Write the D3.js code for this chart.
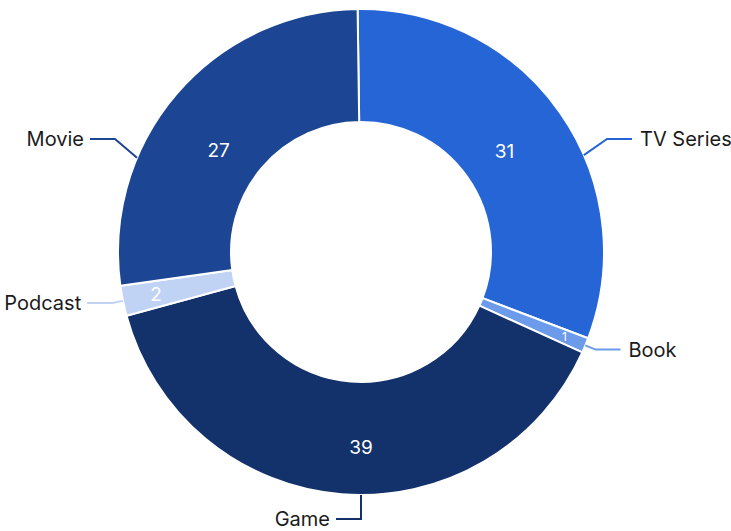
<!DOCTYPE html>
<html>
<head>
<meta charset="utf-8">
<script src="https://cdn.jsdelivr.net/npm/d3@7"></script>
<style>
  body { margin: 0; background: #fff; }
  svg { display: block; font-family: Inter, "Noto Sans", sans-serif; }
</style>
</head>
<body>
<div id="chart"></div>
<script>
// Media consumption share by category (clockwise from 12 o'clock)
const categories = ["TV Series", "Book", "Game", "Podcast", "Movie"];
const values = [31, 1, 39, 2, 27];
const colors = ["#2665d6", "#6b9bea", "#13316a", "#c0d3f5", "#1c4593"];

const width = 731, height = 531;
const margin = { top: 10, left: 118 };
const outerR = 243, innerR = 130;
const cx = margin.left + outerR, cy = margin.top + outerR - 1;
const start = -0.8 * Math.PI / 180; // pie is turned a hair anticlockwise

const svg = d3.select("#chart").append("svg")
  .attr("width", width).attr("height", height);
const g = svg.append("g").attr("transform", `translate(${cx},${cy})`);

const data = categories.map((c, i) => ({ category: c, value: values[i], color: colors[i] }));
const total = d3.sum(values);
const pie = d3.pie().sort(null).value(d => d.value)
  .startAngle(start).endAngle(start + 2 * Math.PI);
const arc = d3.arc().innerRadius(innerR).outerRadius(outerR);
const arcs = pie(data);

// slices
g.selectAll("path.slice")
  .data(arcs)
  .join("path")
  .attr("class", "slice")
  .attr("d", arc)
  .attr("fill", d => d.data.color)
  .attr("stroke", "#fff")
  .attr("stroke-width", 2);

// label angle: snap to a compass direction when the slice mid sits close to it
const snapTol = 8 * Math.PI / 180;
function labelAngle(d) {
  const mid = (d.startAngle + d.endAngle) / 2;
  const axis = Math.round(mid / (Math.PI / 2)) * (Math.PI / 2);
  if (Math.abs(mid - axis) < snapTol && axis > d.startAngle && axis < d.endAngle) {
    return { a: axis, snapped: true };
  }
  return { a: mid, snapped: false };
}

// outside labels: elbow just beyond the rim, side labels clamped into a band
const len1 = 11, lenV = 24, len2 = 25, band = 113, textGap = 6;
function leader(d) {
  const { a, snapped } = labelAngle(d);
  let dx = Math.sin(a), dy = -Math.cos(a);
  const side = dx > 1e-6 ? 1 : -1;
  let p2;
  if (snapped && Math.abs(dx) < 1e-6) {
    dx = 0;
    p2 = [0, dy * (outerR + lenV)];
  } else {
    p2 = [dx * (outerR + len1), dy * (outerR + len1)];
    if (Math.abs(p2[1]) > band) p2 = [side * (outerR + 3), Math.sign(p2[1]) * band];
  }
  // walk back along the slice direction until the rim is reached
  const b = p2[0] * dx + p2[1] * dy;
  const c = p2[0] * p2[0] + p2[1] * p2[1] - outerR * outerR;
  const t = b - Math.sqrt(Math.max(0, b * b - c));
  const p1 = [p2[0] - t * dx, p2[1] - t * dy];
  const p3 = [p2[0] + side * len2, p2[1]];
  return { p1, p2, p3, side };
}

const labels = arcs.map(d => ({ d, ...leader(d) }));

g.selectAll("polyline.leader")
  .data(labels)
  .join("polyline")
  .attr("class", "leader")
  .attr("points", l => [l.p1, l.p2, l.p3].map(p => p.join(",")).join(" "))
  .attr("fill", "none")
  .attr("stroke", l => l.d.data.color)
  .attr("stroke-width", 2);

g.selectAll("text.cat")
  .data(labels)
  .join("text")
  .attr("class", "cat")
  .attr("x", l => l.p3[0] + l.side * (l.side > 0 ? textGap + 2 : textGap))
  .attr("y", l => l.p3[1])
  .attr("dy", "0.36em")
  .attr("text-anchor", l => l.side < 0 ? "end" : "start")
  .attr("fill", "#1b1b1b")
  .attr("font-size", 20)
  .text(l => l.d.data.category);

// values inside the ring: thin slices push their number outward
const innerBand = 102;
function valuePos(d) {
  const { a, snapped } = labelAngle(d);
  const share = d.value / total;
  let k = snapped ? 0.58 : 0.4;
  if (share < 0.05) k = Math.min(0.85, 0.4 + (0.05 - share) * 10);
  const rho = innerR + k * (outerR - innerR);
  let x = Math.sin(a) * rho, y = -Math.cos(a) * rho;
  if (!snapped && Math.abs(y) > innerBand) {
    y = Math.sign(y) * innerBand;
    x = Math.sign(x) * Math.sqrt(rho * rho - y * y);
  }
  return [x, y];
}

g.selectAll("text.val")
  .data(arcs)
  .join("text")
  .attr("class", "val")
  .attr("transform", d => `translate(${valuePos(d)})`)
  .attr("dy", "0.36em")
  .attr("text-anchor", "middle")
  .attr("fill", "#fff")
  .attr("font-size", d => d.value / total < 0.015 ? 12 : 19)
  .text(d => d.value);
</script>
</body>
</html>
